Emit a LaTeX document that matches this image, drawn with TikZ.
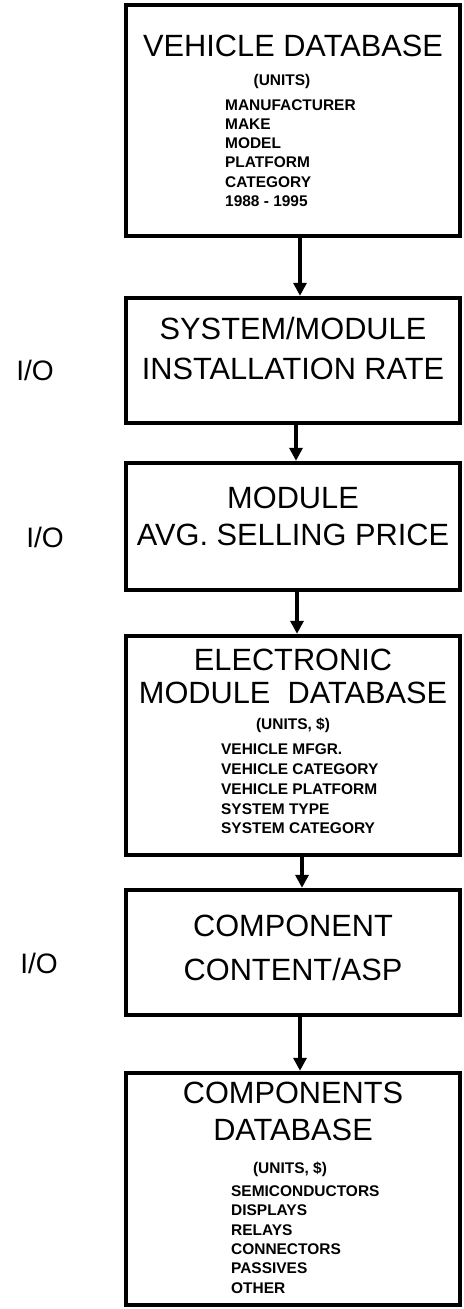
\documentclass[tikz,border=0pt]{standalone}
\usepackage{fontspec}
\setmainfont{Liberation Sans}
\usetikzlibrary{positioning,arrows.meta,calc}
\tikzset{
  dbbox/.style = {rectangle, draw=black, line width=2.5pt, minimum width=6.68cm,
                  inner sep=0pt},
  head/.style  = {align=center, inner sep=0pt, font=\fontsize{17.5}{#1}\selectfont},
  head/.default = 21,
  units/.style = {inner sep=0pt, font=\bfseries\fontsize{8.8}{11}\selectfont},
  items/.style = {align=left, inner sep=0pt, font=\bfseries\fontsize{8.8}{#1}\selectfont},
  items/.default = 11,
  iolab/.style = {inner sep=0pt, font=\fontsize{16}{18}\selectfont},
  flow/.style  = {-{Triangle[length=2.6mm,width=2.6mm]}, line width=2.5pt},
}
\begin{document}
\begin{tikzpicture}
  \useasboundingbox (0,0) rectangle (9.26,-26.18);

  % vehicle database
  \node[dbbox, minimum height=4.62cm] (veh) at (5.86,-2.41) {};
  \node[head, anchor=north] (vehhead) at ($(veh.north)+(0,-0.64)$) {VEHICLE DATABASE};
  \node[units, anchor=base] (vehunits) at ($(veh.north)+(-0.22,-1.65)$) {(UNITS)};
  \node[items=10.9, anchor=north west] (vehlist) at ($(veh.north west)+(2.02,-1.93)$)
       {MANUFACTURER\\MAKE\\MODEL\\PLATFORM\\CATEGORY\\1988 - 1995};

  % installation rate
  \node[dbbox, minimum height=2.50cm] (rate) at (5.86,-7.21) {};
  \node[head=22.8, anchor=north] (ratehead) at ($(rate.north)+(0,-0.42)$)
       {SYSTEM/MODULE\\INSTALLATION RATE};
  \node[iolab] (io1) at (0.70,-7.40) {I/O};

  % selling price
  \node[dbbox, minimum height=2.54cm] (asp) at (5.86,-10.53) {};
  \node[head=21, anchor=north] (asphead) at ($(asp.north)+(0,-0.52)$)
       {MODULE\\AVG. SELLING PRICE};
  \node[iolab] (io2) at (0.90,-10.74) {I/O};

  % electronic module database
  \node[dbbox, minimum height=4.38cm] (emd) at (5.86,-14.91) {};
  \node[head=18.8, anchor=north] (emdhead) at ($(emd.north)+(0,-0.30)$)
       {ELECTRONIC\\MODULE~ DATABASE};
  \node[units, anchor=base] (emdunits) at ($(emd.north)+(0,-1.91)$) {(UNITS, \$)};
  \node[items=11.3, anchor=north west] (emdlist) at ($(emd.north west)+(1.94,-2.19)$)
       {VEHICLE MFGR.\\VEHICLE CATEGORY\\VEHICLE PLATFORM\\SYSTEM TYPE\\SYSTEM CATEGORY};

  % component content
  \node[dbbox, minimum height=2.50cm] (cont) at (5.86,-19.05) {};
  \node[head=25, anchor=north] (conthead) at ($(cont.north)+(0,-0.54)$)
       {COMPONENT\\CONTENT/ASP};
  \node[iolab] (io3) at (0.78,-19.26) {I/O};

  % components database
  \node[dbbox, minimum height=4.64cm] (comp) at (5.86,-23.78) {};
  \node[head=21, anchor=north] (comphead) at ($(comp.north)+(0,-0.22)$)
       {COMPONENTS\\DATABASE};
  \node[units, anchor=base] (compunits) at ($(comp.north)+(-0.06,-2.05)$) {(UNITS, \$)};
  \node[items=11, anchor=north west] (complist) at ($(comp.north west)+(2.14,-2.29)$)
       {SEMICONDUCTORS\\DISPLAYS\\RELAYS\\CONNECTORS\\PASSIVES\\OTHER};

  \draw[flow] ([xshift=1.4mm]veh.south) -- ([xshift=1.4mm]rate.north);
  \draw[flow] ([xshift=0.6mm]rate.south) -- ([xshift=0.6mm]asp.north);
  \draw[flow] ([xshift=0.8mm]asp.south) -- ([xshift=0.8mm]emd.north);
  \draw[flow] ([xshift=1.8mm]emd.south) -- ([xshift=1.8mm]cont.north);
  \draw[flow] ([xshift=1.4mm]cont.south) -- ([xshift=1.4mm]comp.north);

\end{tikzpicture}
\end{document}
